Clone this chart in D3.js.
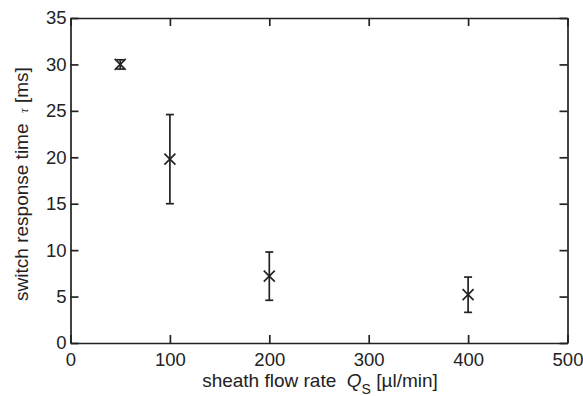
<!DOCTYPE html>
<html>
<head>
<meta charset="utf-8">
<script src="https://cdn.jsdelivr.net/npm/d3@7"></script>
<style>
  body { margin: 0; background: #fff; }
  text { font-family: "Liberation Sans", Arial, sans-serif; fill: #222; white-space: pre; }
</style>
</head>
<body>
<script>
// flow rate (ul/min), response time (ms), error bar ends
const flowRates = [50, 100, 200, 400];
const tauMean = [30.0, 19.8, 7.2, 5.2];
const tauLow = [29.5, 15.0, 4.6, 3.3];
const tauHigh = [30.5, 24.6, 9.8, 7.1];
const xTicks = [0, 100, 200, 300, 400, 500];
const yTicks = [0, 5, 10, 15, 20, 25, 30, 35];

const width = 583, height = 396;
const margin = {left: 70.5, right: 15.5, top: 18, bottom: 53};
const ink = "#222";

const svg = d3.select("body").append("svg")
  .attr("width", width)
  .attr("height", height);

const x = d3.scaleLinear().domain([0, 500]).range([margin.left, width - margin.right]);
const y = d3.scaleLinear().domain([0, 35]).range([height - margin.bottom, margin.top]);

const tickLen = 8;

// axes with inward ticks on all sides
const gx = svg.append("g")
  .attr("transform", "translate(0," + y(0) + ")")
  .call(d3.axisBottom(x).tickValues(xTicks).tickSize(-tickLen).tickPadding(12).tickSizeOuter(0));
const gxTop = svg.append("g")
  .attr("transform", "translate(0," + y(35) + ")")
  .call(d3.axisTop(x).tickValues(xTicks).tickSize(-tickLen).tickSizeOuter(0));
gxTop.selectAll("text").remove();

const gy = svg.append("g")
  .attr("transform", "translate(" + x(0) + ",0)")
  .call(d3.axisLeft(y).tickValues(yTicks).tickSize(-tickLen).tickPadding(4).tickSizeOuter(0));
const gyRight = svg.append("g")
  .attr("transform", "translate(" + x(500) + ",0)")
  .call(d3.axisRight(y).tickValues(yTicks).tickSize(-tickLen).tickSizeOuter(0));
gyRight.selectAll("text").remove();

svg.selectAll(".domain").attr("stroke", ink).attr("stroke-width", 1.7);
svg.selectAll(".tick line").attr("stroke", ink).attr("stroke-width", 1.7);
svg.selectAll(".tick text").style("font-size", "18.5px").attr("fill", ink);
gx.selectAll(".tick text").attr("dy", "0.62em");

// error bars
const capW = 4;
const pts = svg.append("g").selectAll("g")
  .data(flowRates)
  .enter()
  .append("g")
  .attr("stroke", ink)
  .attr("stroke-width", 1.7);

pts.append("line")
  .attr("x1", d => x(d)).attr("x2", d => x(d))
  .attr("y1", (d, i) => y(tauLow[i])).attr("y2", (d, i) => y(tauHigh[i]));
pts.append("line")
  .attr("x1", d => x(d) - capW).attr("x2", d => x(d) + capW)
  .attr("y1", (d, i) => y(tauLow[i])).attr("y2", (d, i) => y(tauLow[i]));
pts.append("line")
  .attr("x1", d => x(d) - capW).attr("x2", d => x(d) + capW)
  .attr("y1", (d, i) => y(tauHigh[i])).attr("y2", (d, i) => y(tauHigh[i]));

// x markers
const m = 5.5;
pts.append("line")
  .attr("x1", d => x(d) - m).attr("x2", d => x(d) + m)
  .attr("y1", (d, i) => y(tauMean[i]) - m).attr("y2", (d, i) => y(tauMean[i]) + m);
pts.append("line")
  .attr("x1", d => x(d) - m).attr("x2", d => x(d) + m)
  .attr("y1", (d, i) => y(tauMean[i]) + m).attr("y2", (d, i) => y(tauMean[i]) - m);

// axis titles
const xt = svg.append("text")
  .attr("x", 320)
  .attr("y", 387)
  .attr("text-anchor", "middle")
  .style("font-size", "19px");
xt.append("tspan").text("sheath flow rate  ");
xt.append("tspan").attr("font-style", "italic").text("Q");
xt.append("tspan").attr("dy", 7).style("font-size", "14px").text("S");
xt.append("tspan").attr("dy", -7).text(" [µl/min]");

const yt = svg.append("text")
  .attr("transform", "translate(28,184) rotate(-90)")
  .attr("text-anchor", "middle")
  .style("font-size", "19px");
yt.append("tspan").text("switch response time  ");
yt.append("tspan").attr("font-style", "italic").attr("font-family", "'Liberation Serif', serif").style("font-size", "13px").text("τ");
yt.append("tspan").text(" [ms]");
</script>
</body>
</html>
